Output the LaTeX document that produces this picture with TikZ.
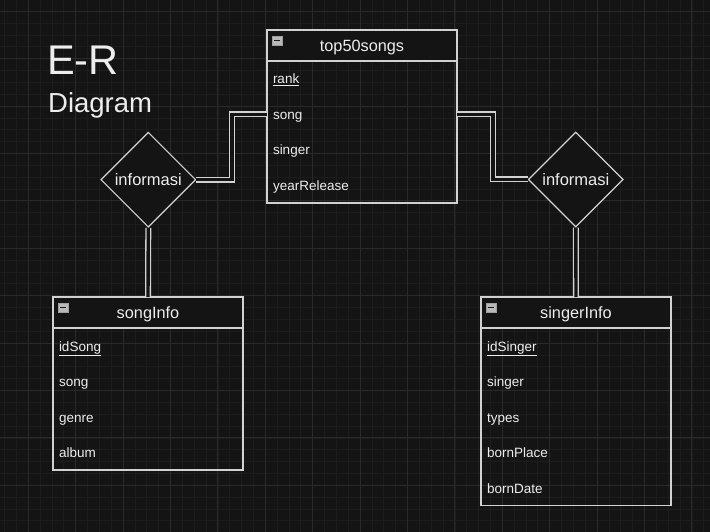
\documentclass[tikz,border=0pt]{standalone}
\usepackage{fontspec}
\setmainfont{Liberation Sans}
\usetikzlibrary{positioning,shapes.geometric,fit}

\definecolor{bgcol}{HTML}{141414}
\definecolor{minorcol}{HTML}{1C1C1C}
\definecolor{majorcol}{HTML}{2A2A2A}
\definecolor{linecol}{HTML}{D2D2D2}
\definecolor{txtcol}{HTML}{EDEDED}

\begin{document}
\begin{tikzpicture}[x=1pt, y=-1pt,
  head/.style={draw=linecol, line width=1.3pt, fill=bgcol, minimum width=190pt, minimum height=31pt, inner sep=0pt, outer sep=0pt, text height=15pt, text depth=3pt, text=txtcol, font=\fontsize{16.3}{19}\selectfont},
  row/.style={text width=178pt, inner xsep=6pt, inner ysep=0pt, minimum height=35.5pt, outer sep=0pt, align=left, text height=12.5pt, text depth=2pt, text=txtcol, font=\fontsize{13.5}{16}\selectfont},
  box/.style={draw=linecol, line width=1.3pt, inner sep=0pt},
  minbox/.style={draw=gray!75, fill=gray!55, minimum width=10pt, minimum height=9pt, inner sep=0pt},
  rel/.style={diamond, draw=linecol, line width=1.2pt, fill=bgcol, minimum width=95pt, minimum height=95pt, inner sep=0pt, text=txtcol, font=\fontsize{16.5}{19}\selectfont},
  link/.style={draw=linecol, line width=1.3pt, double=bgcol, double distance=3.4pt}]
  \useasboundingbox (0,0) rectangle (710,532);

  % Background and grid
  \fill[bgcol] (0,0) rectangle (710,532);
  \foreach \k in {0,...,59} \draw[minorcol, line width=0.8pt] (4.6+11.85*\k,0) -- (4.6+11.85*\k,532);
  \foreach \k in {0,...,43} \draw[minorcol, line width=0.8pt] (0,11.3+11.85*\k) -- (710,11.3+11.85*\k);
  \foreach \k in {0,...,14} \draw[majorcol, line width=1pt] (28.3+47.4*\k,0) -- (28.3+47.4*\k,532);
  \foreach \k in {0,...,10} \draw[majorcol, line width=1pt] (0,11.3+47.4*\k) -- (710,11.3+47.4*\k);

  % Title
  \node[anchor=base west, inner sep=0pt, text=txtcol, font=\fontsize{41.5}{46}\selectfont] (er) at (47,75) {E-R};
  \node[anchor=base west, inner sep=0pt, text=txtcol, font=\fontsize{27.5}{31}\selectfont] (dia) at (48,112.5) {Diagram};

  % Entities
  \node[head, anchor=north west] (top50) at (267,30) {top50songs};
  \node[row, below=0pt of top50] (top50-1) {\underline{rank}};
  \node[row, below=0pt of top50-1] (top50-2) {song};
  \node[row, below=0pt of top50-2] (top50-3) {singer};
  \node[row, below=0pt of top50-3] (top50-4) {yearRelease};
  \node[box, fit=(top50)(top50-4)] (top50-box) {};

  \node[head, anchor=north west] (song) at (53,297) {songInfo};
  \node[row, below=0pt of song] (song-1) {\underline{idSong}};
  \node[row, below=0pt of song-1] (song-2) {song};
  \node[row, below=0pt of song-2] (song-3) {genre};
  \node[row, below=0pt of song-3] (song-4) {album};
  \node[box, fit=(song)(song-4)] (song-box) {};

  \node[head, anchor=north west] (singer) at (481,297) {singerInfo};
  \node[row, below=0pt of singer] (singer-1) {\underline{idSinger}};
  \node[row, below=0pt of singer-1] (singer-2) {singer};
  \node[row, below=0pt of singer-2] (singer-3) {types};
  \node[row, below=0pt of singer-3] (singer-4) {bornPlace};
  \node[row, below=0pt of singer-4] (singer-5) {bornDate};
  \node[box, fit=(singer)(singer-5)] (singer-box) {};

  % Collapse icons
  \foreach \e in {top50,song,singer} {
    \node[minbox, anchor=north west] (\e-min) at ([shift={(5,6)}]\e.north west) {};
    \draw[gray!20!black, line width=1.2pt] ([xshift=2pt]\e-min.west) -- ([xshift=-2pt]\e-min.east);
  }

  % Relations
  \node[rel] (infoL) at (148.3,179.7) {informasi};
  \node[rel] (infoR) at (575.8,179.5) {informasi};

  % Links
  \coordinate (bendL) at (232,114.5);
  \coordinate (bendR) at (493,114.5);
  \draw[link] (infoL.east) -| (bendL) -- (bendL -| top50.west);
  \draw[link] (bendR -| top50.east) -- (bendR) |- (infoR.west);
  \draw[link] (infoL.south) -- (song.north);
  \draw[link] (infoR.south) -- (singer.north);
\end{tikzpicture}
\end{document}
